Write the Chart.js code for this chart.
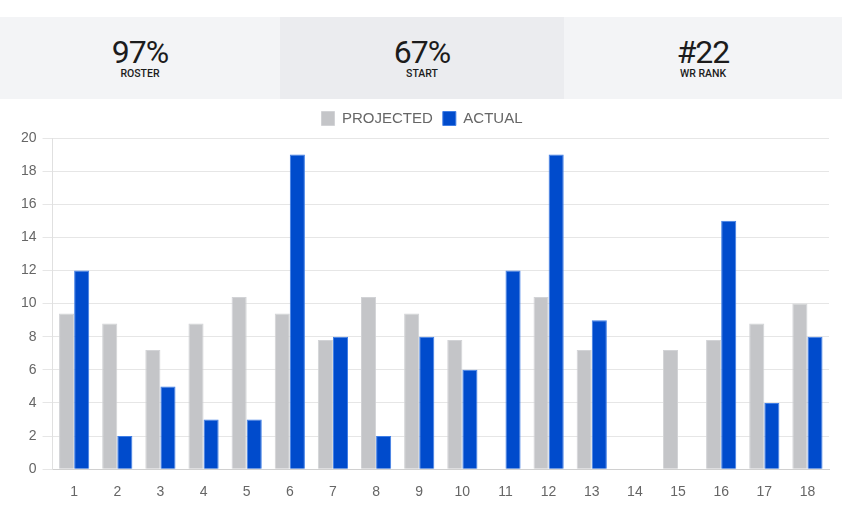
<!DOCTYPE html>
<html>
<head>
<meta charset="utf-8">
<script src="https://cdn.jsdelivr.net/npm/chart.js@4/dist/chart.umd.min.js"></script>
<style>
  html, body { margin: 0; padding: 0; background: #fff; width: 842px; height: 525px; overflow: hidden; }
  .stats { position: absolute; top: 17px; left: 0; width: 842px; height: 82px; display: flex; }
  .stat { flex: 0 0 auto; height: 82px; text-align: center; font-family: Roboto, sans-serif; color: #1c1c1c; }
  .stat .big { font-size: 32px; font-weight: 400; line-height: 32px; padding-top: 19px; letter-spacing: -1px; }
  .stat .lbl { font-size: 10.5px; font-weight: 500; line-height: 12px; margin-top: 0px; }
  #wrap { position: absolute; top: 101px; left: 0; width: 842px; height: 417px; }
</style>
</head>
<body>
<div class="stats">
  <div class="stat" style="width:280px;background:#f3f4f6"><div class="big">97%</div><div class="lbl">ROSTER</div></div>
  <div class="stat" style="width:284px;background:#ebecef"><div class="big">67%</div><div class="lbl">START</div></div>
  <div class="stat" style="width:278px;background:#f3f4f6"><div class="big">#22</div><div class="lbl">WR RANK</div></div>
</div>
<div id="wrap"><canvas id="c"></canvas></div>
<script>
const weeks = ["1","2","3","4","5","6","7","8","9","10","11","12","13","14","15","16","17","18"];
const projected = [9.4, 8.8, 7.2, 8.8, 10.4, 9.4, 7.8, 10.4, 9.4, 7.8, null, 10.4, 7.2, null, 7.2, 7.8, 8.8, 10.0];
const actual = [12, 2, 5, 3, 3, 19, 8, 2, 8, 6, 12, 19, 9, null, null, 15, 4, 8];
const seriesNames = ["PROJECTED", "ACTUAL"];

const legendGap = {
  id: 'legendGap',
  beforeInit(chart) {
    const fit = chart.legend.fit;
    chart.legend.fit = function () { fit.bind(chart.legend)(); this.height += 2; };
  }
};

new Chart(document.getElementById('c'), {
  type: 'bar',
  data: {
    labels: weeks,
    datasets: [
      { label: seriesNames[0], data: projected, backgroundColor: '#c4c5c8', borderColor: '#d2d3d6', borderWidth: 1 },
      { label: seriesNames[1], data: actual, backgroundColor: '#004bcc', borderColor: '#3f7ee6', borderWidth: 1 }
    ]
  },
  plugins: [legendGap],
  options: {
    responsive: true,
    maintainAspectRatio: false,
    animation: false,
    layout: { padding: { left: 15, right: 13, top: 0, bottom: 10 } },
    datasets: { bar: { barPercentage: 1.0, categoryPercentage: 0.7 } },
    plugins: {
      legend: {
        position: 'top',
        labels: { boxWidth: 13, boxHeight: 14, padding: 10, color: '#666', font: { family: 'Liberation Sans, Arial, sans-serif', size: 15 } }
      },
      tooltip: { enabled: false }
    },
    scales: {
      x: {
        grid: { display: false },
        border: { color: '#d0d0d0' },
        ticks: { color: '#666', padding: 7, font: { family: 'Liberation Sans, Arial, sans-serif', size: 14 } }
      },
      y: {
        min: 0, max: 20,
        ticks: { stepSize: 2, color: '#666', padding: 6, font: { family: 'Liberation Sans, Arial, sans-serif', size: 14 } },
        grid: { color: '#e6e6e6', tickLength: 10 },
        border: { color: '#e0e0e0' }
      }
    }
  }
});
</script>
</body>
</html>
